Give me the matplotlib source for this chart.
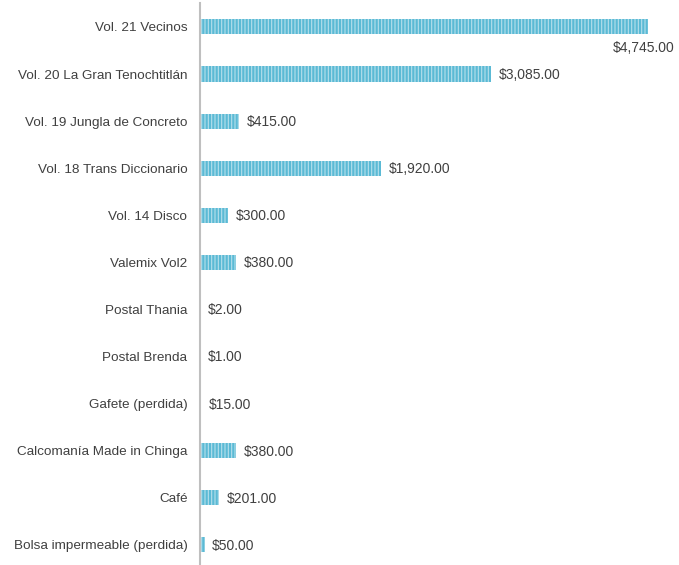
import matplotlib.pyplot as plt
import numpy as np

CATEGORIES = [
    "Vol. 21 Vecinos",
    "Vol. 20 La Gran Tenochtitlán",
    "Vol. 19 Jungla de Concreto",
    "Vol. 18 Trans Diccionario",
    "Vol. 14 Disco",
    "Valemix Vol2",
    "Postal Thania",
    "Postal Brenda",
    "Gafete (perdida)",
    "Calcomanía Made in Chinga",
    "Café",
    "Bolsa impermeable (perdida)",
]
VALUES = [4745, 3085, 415, 1920, 300, 380, 2, 1, 15, 380, 201, 50]

BAR_COLOR = "#5bbad5"
STRIPE_COLOR = "#b5e0ec"
TEXT_COLOR = "#404040"

plt.rcParams["font.family"] = ["Liberation Sans", "DejaVu Sans"]
plt.rcParams["hatch.linewidth"] = 0.8

fig = plt.figure(figsize=(6.79, 5.65), dpi=100)
ax = fig.add_axes([200 / 679, -0.006, 472 / 679, 1.0])

y = np.arange(len(CATEGORIES))
ax.barh(y, VALUES, height=0.32, color=BAR_COLOR, edgecolor=STRIPE_COLOR,
        hatch="|||||", linewidth=0)

for i, v in enumerate(VALUES):
    label = f"${v:,.2f}"
    if i == 0:
        # label sits under the end of the longest bar
        ax.text(5030, i + 0.45, label, ha="right", va="center",
                fontsize=10, color=TEXT_COLOR, clip_on=False)
    else:
        ax.text(v + 80, i + 0.02, label, ha="left", va="center",
                fontsize=10, color=TEXT_COLOR)

ax.set_yticks(y)
ax.set_yticklabels(CATEGORIES, fontsize=9.7, color=TEXT_COLOR)
ax.set_ylim(len(CATEGORIES) - 0.5, -0.5)
ax.set_xlim(0, 5000)
ax.set_xticks([])
ax.tick_params(axis="y", length=0, pad=9)
for side in ("top", "right", "bottom"):
    ax.spines[side].set_visible(False)
ax.spines["left"].set_color("#bfbfbf")
ax.spines["left"].set_linewidth(1.5)

fig.savefig("out.png", dpi=100)
